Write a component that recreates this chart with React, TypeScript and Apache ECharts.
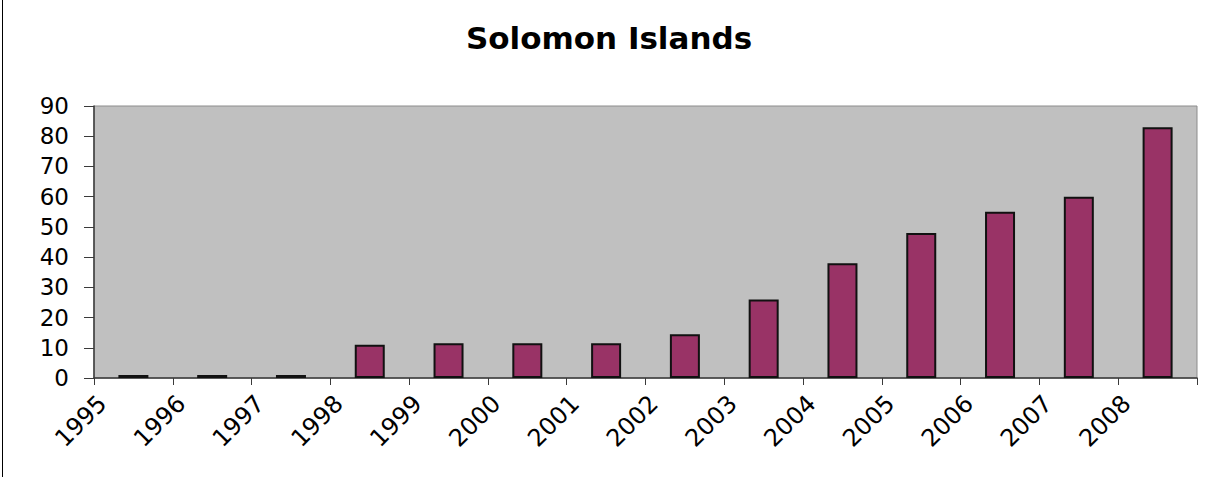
import React, { useEffect, useRef } from "react";
import * as echarts from "echarts";

// Years shown along the bottom axis and the yearly values drawn as bars
const years = [
  "1995", "1996", "1997", "1998", "1999", "2000", "2001",
  "2002", "2003", "2004", "2005", "2006", "2007", "2008",
];
const values = [1, 1, 1, 11, 11.5, 11.5, 11.5, 14.5, 26, 38, 48, 55, 60, 83];
const yTicks = { min: 0, max: 90, interval: 10 };

const TITLE = "Solomon Islands";

export default function App() {
  const ref = useRef<HTMLDivElement>(null);

  useEffect(() => {
    if (!ref.current) return;
    const chart = echarts.init(ref.current, undefined, { renderer: "svg" });
    chart.setOption({
      animation: false,
      backgroundColor: "#fff",
      title: {
        text: TITLE,
        left: "center",
        top: 17,
        textStyle: {
          fontFamily: "DejaVu Sans",
          fontWeight: "bold",
          fontSize: 31,
          color: "#000",
        },
      },
      grid: {
        left: 94,
        right: 21,
        top: 106,
        bottom: 99,
        show: true,
        backgroundColor: "#c0c0c0",
        borderColor: "#8c8c8c",
        borderWidth: 1,
      },
      xAxis: [
        {
          // bars sit in the middle of each year's band
          type: "category",
          data: years,
          boundaryGap: true,
          show: false,
        },
        {
          // year labels and ticks sit on the band boundaries
          type: "value",
          position: "bottom",
          min: 0,
          max: years.length,
          interval: 1,
          splitLine: { show: false },
          axisLine: { show: true, lineStyle: { color: "#3a3a3a", width: 1.5 } },
          axisTick: { show: true, length: 7, lineStyle: { color: "#3a3a3a" } },
          axisLabel: {
            fontFamily: "DejaVu Sans",
            fontSize: 24,
            color: "#000",
            rotate: 45,
            margin: 13,
            verticalAlign: "top",
            showMaxLabel: true,
            formatter: (v: number) => years[v] ?? "",
          },
        },
      ],
      yAxis: {
        type: "value",
        min: yTicks.min,
        max: yTicks.max,
        interval: yTicks.interval,
        splitLine: { show: false },
        axisLine: { show: true, lineStyle: { color: "#3a3a3a", width: 1.5 } },
        axisTick: { show: true, length: 10, lineStyle: { color: "#3a3a3a" } },
        axisLabel: {
          fontFamily: "DejaVu Sans",
          fontSize: 23,
          color: "#000",
          margin: 25,
        },
      },
      series: [
        {
          type: "bar",
          xAxisIndex: 0,
          yAxisIndex: 0,
          data: values,
          barWidth: 30,
          itemStyle: {
            color: "#993366",
            borderColor: "#111",
            borderWidth: 2,
          },
        },
      ],
      graphic: [
        {
          type: "line",
          shape: { x1: 2.5, y1: 0, x2: 2.5, y2: 477 },
          style: { stroke: "#000", lineWidth: 1 },
        },
      ],
    });
    return () => chart.dispose();
  }, []);

  return (
    <div
      ref={ref}
      style={{
        position: "fixed",
        left: 0,
        top: 0,
        width: 1218,
        height: 477,
      }}
    />
  );
}
